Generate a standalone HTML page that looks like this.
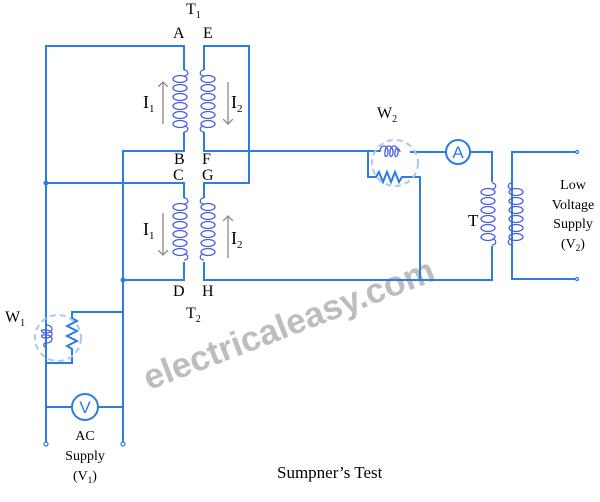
<!DOCTYPE html>
<html><head><style>body{margin:0;background:#fff}svg{display:block}</style></head><body>
<svg width="600" height="502" viewBox="0 0 600 502" xmlns="http://www.w3.org/2000/svg" font-family="Liberation Serif, serif" font-size="16">
<defs>
<g id="coilL" fill="none" stroke="#4a5ee0" stroke-width="1.3">
<path d="M0,0 c5,0 5,6 0,6 M0,62 c5,0 5,-6 0,-6"/>
<ellipse cx="-4" cy="9" rx="7" ry="3.5"/>
<ellipse cx="-4" cy="18" rx="7" ry="3.5"/>
<ellipse cx="-4" cy="27" rx="7" ry="3.5"/>
<ellipse cx="-4" cy="36" rx="7" ry="3.5"/>
<ellipse cx="-4" cy="45" rx="7" ry="3.5"/>
<ellipse cx="-4" cy="54" rx="7" ry="3.5"/>
</g>
<g id="coilR" transform="scale(-1,1)"><use href="#coilL"/></g>
<marker id="ar" markerWidth="8" markerHeight="8" refX="4" refY="4" orient="auto"><path d="M0,0 L4,4 L0,8" fill="none" stroke="#888" stroke-width="1"/></marker>
</defs>
<text x="288" y="336" transform="rotate(-21 288 322)" text-anchor="middle" font-family="Liberation Sans, sans-serif" font-weight="bold" font-size="35" fill="#bdbdbd">electricaleasy.com</text>
<g fill="none" stroke="#2b7de0" stroke-width="2">
<path d="M46,443 V46 H184 V70"/>
<path d="M184,132 V151 H123 V443"/>
<path d="M204,70 V46 H249 V183 H204 V198"/>
<path d="M204,132 V151 H380"/>
<path d="M46,183 H184 V198"/>
<path d="M184,262 V280 H123"/>
<path d="M204,262 V280 H492 V246"/>
<path d="M368,152 V177 H376 l3,-5 l4,10 l4,-10 l4,10 l4,-10 l4,10 l3,-5 H420 V280"/>
<path d="M410,152 H446 M470,152 H492 V182"/>
<path d="M577,152 H512 V279 H577"/>
<path d="M46,325 V312 M123,312 H72 V318 l5,3 l-10,5 l10,5 l-10,5 l10,5 l-10,5 l5,3 V363 H46 V350"/>
<path d="M46,407 H72 M98,407 H123"/>
</g>
<g fill="none" stroke="#4a5ee0" stroke-width="1.3">
<path d="M380,152 c0,-8 8,-8 8,0 c0,6 -4,6 -3,0 c0,-8 8,-8 8,0 c0,6 -4,6 -3,0 c0,-8 8,-8 8,0 c0,6 -4,6 -3,0 c0,-6 5,-3 5,0 "/>
<path d="M46,325 c8,0 8,8 0,8 c-6,0 -6,-4 0,-3 c8,0 8,8 0,8 c-6,0 -6,-4 0,-3 c8,0 8,8 0,8 c-3,0 -3,4 0,4"/>
</g>
<use href="#coilL" transform="translate(184,70)"/>
<use href="#coilR" transform="translate(204,70)"/>
<use href="#coilL" transform="translate(184,198)"/>
<use href="#coilR" transform="translate(204,198)"/>
<use href="#coilL" transform="translate(492,183)"/>
<use href="#coilR" transform="translate(512,183)"/>
<g fill="none" stroke="#aac8ee" stroke-width="2" stroke-dasharray="6,4">
<circle cx="395" cy="163" r="23"/>
<circle cx="58" cy="338" r="23"/>
</g>
<g fill="#fff" stroke="#2b7de0" stroke-width="2">
<circle cx="458" cy="152" r="12"/>
<circle cx="85" cy="407" r="13"/>
</g>
<g fill="#2b7de0"><circle cx="46" cy="183" r="2.5"/><circle cx="123" cy="280" r="2.5"/></g>
<g fill="#fff" stroke="#2b7de0" stroke-width="1.2"><circle cx="46" cy="444" r="2"/><circle cx="123" cy="444" r="2"/><circle cx="577" cy="152" r="1.5"/><circle cx="577" cy="279" r="1.5"/></g>
<g stroke="#888" stroke-width="1.3" marker-end="url(#ar)">
<line x1="163" y1="124" x2="163" y2="82"/>
<line x1="228" y1="82" x2="228" y2="124"/>
<line x1="163" y1="213" x2="163" y2="255"/>
<line x1="228" y1="258" x2="228" y2="216"/>
</g>
<g fill="#000">
<text x="186" y="14">T<tspan font-size="10" dy="4">1</tspan></text>
<text x="173" y="38">A</text><text x="203" y="38">E</text>
<text x="174" y="164">B</text><text x="202" y="164">F</text>
<text x="173" y="180">C</text><text x="202" y="180">G</text>
<text x="173" y="296">D</text><text x="202" y="296">H</text>
<text x="143" y="108" font-size="18">I<tspan font-size="11" dy="4">1</tspan></text>
<text x="231" y="108" font-size="18">I<tspan font-size="11" dy="4">2</tspan></text>
<text x="143" y="235" font-size="18">I<tspan font-size="11" dy="4">1</tspan></text>
<text x="231" y="244" font-size="18">I<tspan font-size="11" dy="4">2</tspan></text>
<text x="186" y="318">T<tspan font-size="10" dy="4">2</tspan></text>
<text x="377" y="118">W<tspan font-size="10" dy="4">2</tspan></text>
<text x="5" y="322">W<tspan font-size="10" dy="4">1</tspan></text>
<text x="468" y="226" font-size="17">T</text>
<text x="458" y="158" text-anchor="middle" font-size="17" fill="#2b7de0" font-family="Liberation Sans, sans-serif">A</text>
<text x="85" y="413" text-anchor="middle" font-size="17" fill="#2b7de0" font-family="Liberation Sans, sans-serif">V</text>
<g font-size="14" text-anchor="middle">
<text x="573" y="189">Low</text><text x="573" y="209">Voltage</text><text x="573" y="228">Supply</text><text x="573" y="248">(V<tspan font-size="9" dy="3">2</tspan><tspan dy="-3">)</tspan></text>
<text x="85" y="440">AC</text><text x="85" y="460">Supply</text><text x="85" y="480">(V<tspan font-size="9" dy="3">1</tspan><tspan dy="-3">)</tspan></text>
</g>
<text x="277" y="478" font-size="17">Sumpner’s Test</text>
</g>
</svg>
</body></html>
